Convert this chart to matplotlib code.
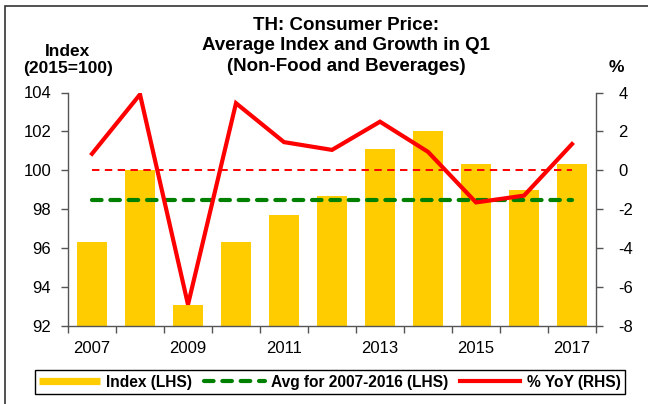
import numpy as np
import matplotlib.pyplot as plt
from matplotlib.lines import Line2D
from matplotlib.patches import Rectangle

plt.rcParams['font.family'] = ['Liberation Sans', 'DejaVu Sans']
plt.rcParams['axes.unicode_minus'] = False

# Q1 consumer price data, non-food and beverages
years = [2007, 2008, 2009, 2010, 2011, 2012, 2013, 2014, 2015, 2016, 2017]
index_q1 = [96.3, 100.0, 93.1, 96.3, 97.7, 98.7, 101.1, 102.0, 100.3, 99.0, 100.3]
yoy_pct = [0.85, 3.9, -6.9, 3.45, 1.45, 1.05, 2.5, 0.95, -1.65, -1.3, 1.35]
avg_years = (2007, 2016)
year_labels = ['2007', '', '2009', '', '2011', '', '2013', '', '2015', '', '2017']

x = np.arange(len(years))
avg_idx = np.mean([v for y, v in zip(years, index_q1) if avg_years[0] <= y <= avg_years[1]])

fig = plt.figure(figsize=(6.48, 4.04), dpi=100)
ax = fig.add_axes([68 / 648, 1 - 326 / 404, 528 / 648, 233.5 / 404])
ax2 = ax.twinx()

axis_col = '#555555'
green_dash = dict(color='#008000', lw=3.0, dashes=(2.3, 2.1), dash_capstyle='round')

ax.bar(x, np.array(index_q1) - 92, bottom=92, width=0.61, color='#FFCC00', zorder=2)
ax.plot(x, [avg_idx] * len(x), zorder=3, **green_dash)

ax2.plot(x, [0] * len(x), color='#FF0000', lw=1.4, dashes=(3.8, 2.8), zorder=3)
ax2.plot(x, yoy_pct, color='#FF0000', lw=3.0, solid_joinstyle='miter', zorder=4)

ax.set_xlim(-0.5, len(x) - 0.5)
ax.set_ylim(92, 104)
ax.set_yticks(np.arange(92, 105, 2))
ax2.set_ylim(-8, 4)
ax2.set_yticks(np.arange(-8, 5, 2))

ax.set_xticks(x)
ax.set_xticklabels(year_labels, fontsize=12)
ax.set_xticks(np.arange(-0.5, len(x), 1), minor=True)
ax.tick_params(axis='x', which='major', length=0, pad=11)
ax.tick_params(axis='x', which='minor', length=5, width=1, color=axis_col, direction='out')
ax.tick_params(axis='y', length=5, width=1, color=axis_col, direction='out', labelsize=12, pad=7)
ax2.tick_params(axis='y', length=5, width=1, color=axis_col, direction='out', labelsize=12, pad=11)

for a in (ax, ax2):
    a.spines['top'].set_visible(False)
    for s in ('left', 'right', 'bottom'):
        a.spines[s].set_color(axis_col)
        a.spines[s].set_linewidth(1)
ax.spines['right'].set_visible(False)
ax2.spines['left'].set_visible(False)
ax2.spines['bottom'].set_visible(False)

fig.text(346 / 648, 1 - 46 / 404,
         'TH: Consumer Price:\nAverage Index and Growth in Q1\n(Non-Food and Beverages)',
         ha='center', va='center', fontsize=13.5, fontweight='bold', linespacing=1.3)
fig.text(68 / 648, 1 - 60 / 404, 'Index\n(2015=100)', ha='center', va='center',
         fontsize=12.5, fontweight='bold', linespacing=1.2)
fig.text(616 / 648, 1 - 68 / 404, '%', ha='center', va='center',
         fontsize=12.5, fontweight='bold')

handles = [
    Line2D([], [], color='#FFCC00', lw=5.2, solid_capstyle='butt'),
    Line2D([], [], **green_dash),
    Line2D([], [], color='#FF0000', lw=3.0),
]
leg = fig.legend(handles, ['Index (LHS)', 'Avg for 2007-2016 (LHS)', '% YoY (RHS)'],
                 loc='center', bbox_to_anchor=(330 / 648, 1 - 382 / 404), ncol=3,
                 fancybox=False, framealpha=1, edgecolor='black', handlelength=3.9,
                 handletextpad=0.4, columnspacing=0.75, borderpad=0.3,
                 prop={'weight': 'bold', 'size': 11.2})
leg.get_frame().set_linewidth(1)

# outer frame on the left and top edges
fig.add_artist(Rectangle((4.5 / 648, -0.1), 1.2, 1.1 - 6 / 404, transform=fig.transFigure,
                         fill=False, edgecolor='#333333', lw=1.2))

fig.savefig('out.png', dpi=100)
